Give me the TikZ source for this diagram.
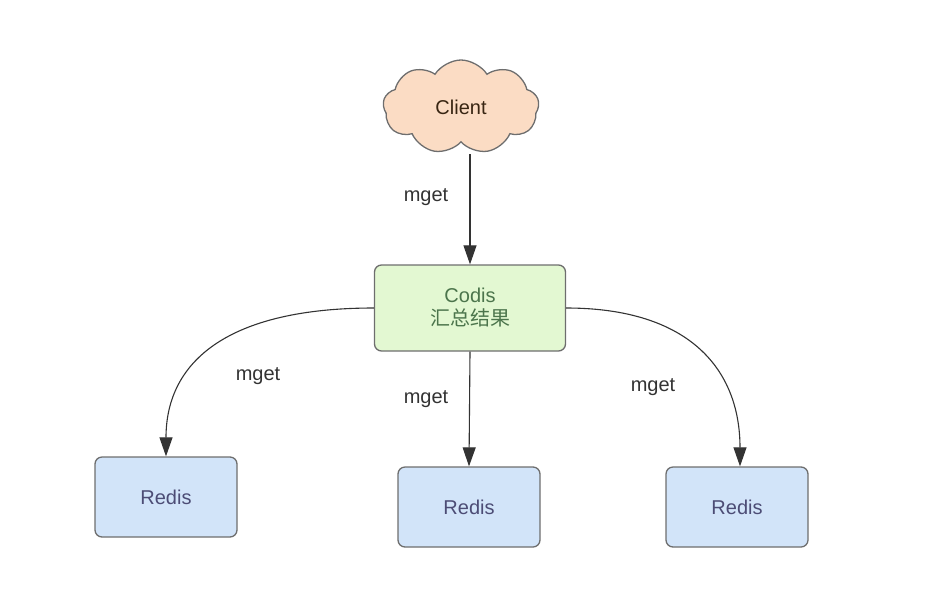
\documentclass[tikz,border=0pt]{standalone}
\usepackage{fontspec}
\setmainfont{Liberation Sans}
\newfontfamily\cjk{Noto Sans CJK SC}
\usetikzlibrary{arrows.meta,shapes.symbols}
\definecolor{cloudfill}{HTML}{FBDCC4}
\definecolor{codisfill}{HTML}{E3F8D2}
\definecolor{redisfill}{HTML}{D2E4F9}
\definecolor{edgegray}{HTML}{6E6E6E}
\definecolor{txtgray}{HTML}{333333}
\tikzset{
  every node/.style={font=\fontsize{20}{24}\selectfont},
  box/.style={draw=edgegray, line width=1.3pt, rounded corners=7pt, align=center, inner sep=0pt},
  redisbox/.style={box, fill=redisfill, minimum width=142pt, minimum height=80pt, text=black!60!blue!40!gray},
  codisbox/.style={box, fill=codisfill, minimum width=191pt, minimum height=86pt, text=black!60!green!40!gray},
  cloudnode/.style={cloud, cloud puffs=9, cloud puff arc=115, aspect=1.7, draw=edgegray, line width=1.3pt, fill=cloudfill, minimum width=156pt, minimum height=94pt, inner sep=0pt, text=black!70!brown},
  conn/.style={draw=txtgray, line width=1.1pt, -{Triangle[length=19pt,width=13pt]}},
  lbl/.style={text=txtgray}
}
\begin{document}
\begin{tikzpicture}[x=1pt,y=-1pt]
\useasboundingbox (0,0) rectangle (928,598);
\node[cloudnode] (client) at (461,107) {Client};
\node[codisbox] (codis) at (470,308) {Codis\\[-1pt]{\cjk 汇总结果}};
\node[redisbox] (r1) at (166,497) {Redis};
\node[redisbox] (r2) at (469,507) {Redis};
\node[redisbox] (r3) at (737,507) {Redis};
\coordinate (cb) at (470,154);
\draw[conn] (cb) -- (codis.north);
\draw[conn] (codis.west) .. controls (230,308) and (166,360) .. (r1.north);
\draw[conn] (codis.south) -- (r2.north);
\draw[conn] (codis.east) .. controls (690,308) and (740,370) .. (r3.north -| 740,0);
\node[lbl] (m0) at (426,197) {mget};
\node[lbl] (m1) at (258,376) {mget};
\node[lbl] (m2) at (426,399) {mget};
\node[lbl] (m3) at (653,387) {mget};
\end{tikzpicture}
\end{document}
